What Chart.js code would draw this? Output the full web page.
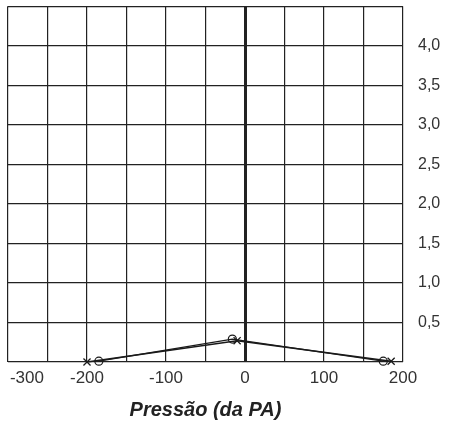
<!DOCTYPE html>
<html>
<head>
<meta charset="utf-8">
<script src="https://cdn.jsdelivr.net/npm/chart.js@4"></script>
<style>
  body { margin: 0; background: #fff; }
  #wrap { width: 450px; height: 427px; position: relative; }
</style>
</head>
<body>
<div id="wrap"><canvas id="chart"></canvas></div>
<script>
// ======================
// Data
// ======================
const pressureX = [-200, -10, 185];      // daPa, "X" curve
const complianceX = [0, 0.27, 0.01];
const pressureO = [-185, -16, 175];      // daPa, "O" curve
const complianceO = [0.01, 0.29, 0.01];

const xTicks = [-300, -200, -100, 0, 100, 200];
const yTicks = [0.5, 1.0, 1.5, 2.0, 2.5, 3.0, 3.5, 4.0];
const xTitle = "Pressão (da PA)";

function toPoints(xs, ys) {
    return xs.map((x, i) => ({ x: x, y: ys[i] }));
}

// ======================
// Chart
// ======================
function initChart() {
    const el = document.getElementById("chart");
    new Chart(el, {
        type: "line",
        data: {
            datasets: [{
                label: "X",
                data: toPoints(pressureX, complianceX),
                borderColor: "#1a1a1a",
                borderWidth: 1.5,
                pointStyle: "crossRot",
                pointRadius: 5,
                pointBorderWidth: 1.3,
                pointBorderColor: "#1a1a1a",
                tension: 0,
                clip: false
            }, {
                label: "O",
                data: toPoints(pressureO, complianceO),
                borderColor: "#1a1a1a",
                borderWidth: 1.2,
                pointStyle: "circle",
                pointRadius: 4,
                pointBorderWidth: 1.2,
                pointBorderColor: "#1a1a1a",
                pointBackgroundColor: "rgba(255,255,255,0)",
                tension: 0,
                clip: false
            }]
        },
        options: {
            responsive: true,
            maintainAspectRatio: false,
            animation: false,
            layout: { padding: { left: 8, top: 6, right: 0, bottom: 0 } },
            plugins: {
                legend: { display: false },
                tooltip: { enabled: false }
            },
            scales: {
                x: {
                    type: "linear",
                    min: -300,
                    max: 200,
                    border: { display: false },
                    grid: {
                        color: "#222",
                        lineWidth: (ctx) => (ctx.tick && ctx.tick.value === 0 ? 3 : 1.2),
                        drawTicks: false
                    },
                    ticks: {
                        stepSize: 50,
                        autoSkip: false,
                        maxRotation: 0,
                        padding: 6,
                        color: "#333",
                        font: { family: "Liberation Sans", size: 17 },
                        callback: (v) => {
                            if (!xTicks.includes(v)) return "";
                            // first label sits inside the left edge
                            return v === xTicks[0] ? "        " + v : String(v);
                        }
                    },
                    title: {
                        display: true,
                        text: xTitle,
                        color: "#222",
                        font: { family: "Liberation Sans", size: 20, weight: "bold", style: "italic" },
                        padding: { top: 0, bottom: 5 }
                    },
                    afterFit: (scale) => {
                        scale.height = 65;
                        scale.paddingLeft = 0;
                        scale.paddingRight = 0;
                    }
                },
                y: {
                    position: "right",
                    min: 0,
                    max: 4.5,
                    border: { display: false },
                    grid: {
                        color: "#222",
                        lineWidth: 1.2,
                        drawTicks: false
                    },
                    ticks: {
                        stepSize: 0.5,
                        padding: 15,
                        color: "#333",
                        font: { family: "Liberation Sans", size: 16 },
                        callback: (v) => {
                            const hit = yTicks.find((t) => Math.abs(t - v) < 1e-6);
                            return hit === undefined ? "" : hit.toFixed(1).replace(".", ",");
                        }
                    },
                    afterFit: (scale) => {
                        scale.width = 47;
                        scale.paddingTop = 0;
                        scale.paddingBottom = 0;
                    }
                }
            }
        }
    });
}

document.addEventListener("DOMContentLoaded", () => {
    initChart();
});
</script>
</body>
</html>
